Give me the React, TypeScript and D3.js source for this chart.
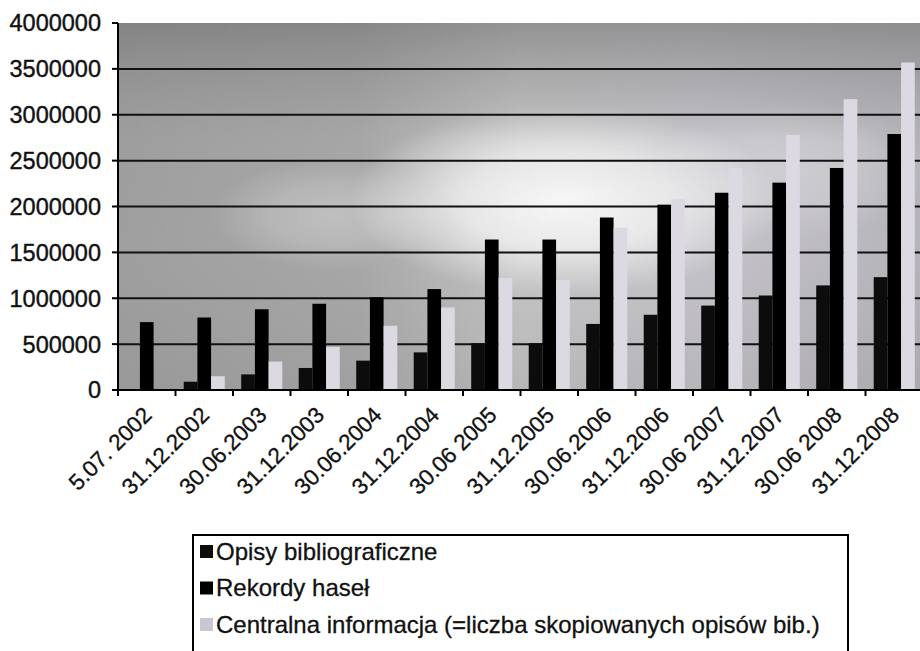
import React from "react";
import * as d3 from "d3";

// Dates of the reports (category axis)
const dates = [
  "5.07. 2002", "31.12.2002", "30.06.2003", "31.12.2003", "30.06.2004",
  "31.12.2004", "30.06 2005", "31.12.2005", "30.06.2006", "31.12.2006",
  "30.06 2007", "31.12.2007", "30.06 2008", "31.12.2008",
];

// Series values
const opisyBibliograficzne = [
  0, 90000, 170000, 240000, 320000, 410000, 510000, 510000, 720000, 820000,
  920000, 1030000, 1140000, 1230000,
];
const rekordyHasel = [
  740000, 790000, 880000, 940000, 1010000, 1100000, 1640000, 1640000, 1880000,
  2020000, 2150000, 2260000, 2420000, 2790000,
];
const centralnaInformacja = [
  0, 150000, 310000, 470000, 700000, 900000, 1220000, 1200000, 1770000,
  2080000, 2420000, 2780000, 3170000, 3570000,
];

const seriesNames = [
  "Opisy bibliograficzne",
  "Rekordy haseł",
  "Centralna informacja (=liczba skopiowanych opisów bib.)",
];
const seriesValues = [opisyBibliograficzne, rekordyHasel, centralnaInformacja];
const seriesColors = ["#0c0c0c", "#000000", "#dcd9e2"];
const legendSwatch = ["#0c0c0c", "#000000", "#cac6d8"];

const yTicks = [0, 500000, 1000000, 1500000, 2000000, 2500000, 3000000, 3500000, 4000000];

const W = 920;
const H = 651;
const plot = { left: 118, right: 923, top: 23, bottom: 390 };
const FONT = "'Liberation Sans', Arial, sans-serif";

export default function App() {
  const x = d3
    .scaleBand<string>()
    .domain(dates)
    .range([plot.left, plot.right])
    .paddingInner(0)
    .paddingOuter(0);
  const xs = d3
    .scaleBand<number>()
    .domain([0, 1, 2])
    .range([0, x.bandwidth()])
    .paddingInner(0)
    .paddingOuter(0.6);
  const y = d3.scaleLinear().domain([0, 4000000]).range([plot.bottom, plot.top]);

  const pw = plot.right - plot.left;
  const ph = plot.bottom - plot.top;

  return (
    <svg
      width={W}
      height={H}
      style={{ position: "absolute", left: 0, top: 0, background: "#fff" }}
      fontFamily={FONT}
    >
      <defs>
        <linearGradient id="bgH" x1="0" y1="0" x2="1" y2="0">
          <stop offset="0" stopColor="#9c9c9c" />
          <stop offset="0.3" stopColor="#a6a6a6" />
          <stop offset="0.5" stopColor="#c6c6c6" />
          <stop offset="0.72" stopColor="#c6c4cb" />
          <stop offset="1" stopColor="#b6b4bb" />
        </linearGradient>
        <radialGradient id="glow" cx="0.5" cy="0.5" r="0.5">
          <stop offset="0" stopColor="#ffffff" stopOpacity="1" />
          <stop offset="0.5" stopColor="#ffffff" stopOpacity="0.7" />
          <stop offset="1" stopColor="#ffffff" stopOpacity="0" />
        </radialGradient>
        <linearGradient id="topShade" x1="0" y1="0" x2="0" y2="1">
          <stop offset="0" stopColor="#6a6a6a" stopOpacity="0.6" />
          <stop offset="0.14" stopColor="#7a7a7a" stopOpacity="0.4" />
          <stop offset="0.32" stopColor="#888" stopOpacity="0.05" />
          <stop offset="0.6" stopColor="#888" stopOpacity="0" />
          <stop offset="1" stopColor="#7a7a7a" stopOpacity="0.2" />
        </linearGradient>
        <filter id="grain" x="0" y="0" width="100%" height="100%">
          <feTurbulence type="fractalNoise" baseFrequency="0.9" numOctaves="2" seed="3" result="n" />
          <feColorMatrix
            in="n"
            type="matrix"
            values="0 0 0 0 0.5  0 0 0 0 0.5  0 0 0 0 0.5  0 0 0 0.18 0"
          />
        </filter>
        <clipPath id="plotClip">
          <rect x={plot.left} y={plot.top} width={pw} height={ph} />
        </clipPath>
      </defs>

      {/* plot background */}
      <g clipPath="url(#plotClip)">
        <rect x={plot.left} y={plot.top} width={pw} height={ph} fill="url(#bgH)" />
        <ellipse cx={565} cy={200} rx={215} ry={95} fill="url(#glow)" />
        <ellipse cx={330} cy={215} rx={120} ry={55} fill="url(#glow)" opacity={0.3} />
        <ellipse cx={790} cy={170} rx={140} ry={70} fill="url(#glow)" opacity={0.3} />
        <rect x={plot.left} y={plot.top} width={pw} height={ph} fill="url(#topShade)" />
        <rect x={plot.left} y={plot.top} width={pw} height={ph} filter="url(#grain)" />
      </g>

      {/* horizontal gridlines */}
      {yTicks
        .filter((t) => t > 0 && t < 4000000)
        .map((t) => (
          <line
            key={`g${t}`}
            x1={plot.left}
            x2={W}
            y1={y(t)}
            y2={y(t)}
            stroke="#111"
            strokeWidth={2}
          />
        ))}

      {/* bars */}
      <g clipPath="url(#plotClip)">
        {dates.map((d, i) =>
          seriesValues.map((vals, s) =>
            vals[i] > 0 ? (
              <rect
                key={`${i}-${s}`}
                x={(x(d) ?? 0) + (xs(s) ?? 0)}
                y={y(vals[i])}
                width={xs.bandwidth()}
                height={y(0) - y(vals[i])}
                fill={seriesColors[s]}
              />
            ) : null
          )
        )}
      </g>

      {/* value axis */}
      <line x1={plot.left} x2={plot.left} y1={plot.top} y2={plot.bottom + 1} stroke="#000" strokeWidth={2} />
      {yTicks.map((t) => (
        <g key={`y${t}`}>
          <line x1={plot.left - 6} x2={plot.left} y1={y(t)} y2={y(t)} stroke="#000" strokeWidth={2} />
          <text
            x={101}
            y={y(t)}
            dy="0.36em"
            textAnchor="end"
            fontSize={23.5}
            fill="#111"
            stroke="#111"
            strokeWidth={0.4}
          >
            {t}
          </text>
        </g>
      ))}

      {/* category axis */}
      <line x1={plot.left} x2={W} y1={plot.bottom} y2={plot.bottom} stroke="#000" strokeWidth={2} />
      {dates.map((d) => (
        <line
          key={`t${d}`}
          x1={x(d) ?? 0}
          x2={x(d) ?? 0}
          y1={plot.bottom}
          y2={plot.bottom + 6}
          stroke="#000"
          strokeWidth={2}
        />
      ))}
      {dates.map((d) => {
        const cx = (x(d) ?? 0) + x.bandwidth() / 2;
        return (
          <text
            key={`l${d}`}
            transform={`translate(${cx - 5},${plot.bottom + 15}) rotate(-45)`}
            textAnchor="end"
            dy="0.72em"
            fontSize={22.5}
            fill="#111"
            stroke="#111"
            strokeWidth={0.3}
          >
            {d}
          </text>
        );
      })}

      {/* legend */}
      <rect x={193} y={535} width={655} height={130} fill="#fff" stroke="#000" strokeWidth={2} />
      {seriesNames.map((name, i) => {
        const cy = 551 + i * 36.5;
        return (
          <g key={name}>
            <rect x={200} y={cy - 6} width={13} height={13} fill={legendSwatch[i]} />
            <text
              x={216}
              y={cy}
              dy="0.36em"
              fontSize={24}
              fill="#111"
              stroke="#111"
              strokeWidth={0.3}
            >
              {name}
            </text>
          </g>
        );
      })}
    </svg>
  );
}
